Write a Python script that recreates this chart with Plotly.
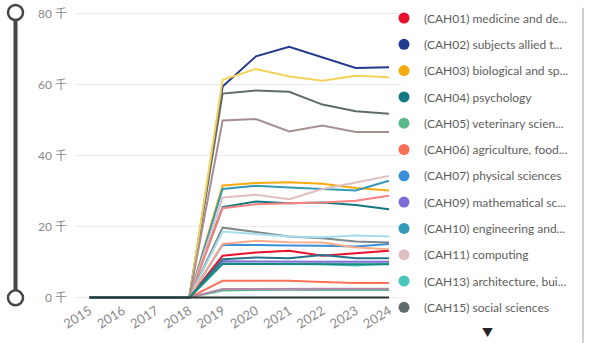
import plotly.graph_objects as go

# ---------------- data ----------------
years = [2015, 2016, 2017, 2018, 2019, 2020, 2021, 2022, 2023, 2024]
year_labels = ["2015", "2016", "2017", "2018", "2019", "2020", "2021", "2022", "2023", "2024"]

y_tick_values = [0, 20000, 40000, 60000, 80000]
y_tick_labels = ["0 千", "20 千", "40 千", "60 千", "80 千"]

cah01 = [0, 0, 0, 0, 11800, 12700, 13200, 11800, 12500, 13200]
cah02 = [0, 0, 0, 0, 59500, 68000, 70700, 67800, 64700, 64900]
cah03 = [0, 0, 0, 0, 31600, 32300, 32500, 32100, 30900, 30200]
cah04 = [0, 0, 0, 0, 25500, 27100, 26600, 26800, 26100, 24900]
cah05 = [0, 0, 0, 0, 2000, 2200, 2200, 2100, 2100, 2100]
cah06 = [0, 0, 0, 0, 4700, 4700, 4700, 4400, 4100, 4100]
cah07 = [0, 0, 0, 0, 14900, 14900, 14700, 14600, 14400, 15100]
cah09 = [0, 0, 0, 0, 10200, 10100, 10000, 10100, 10100, 10100]
cah10 = [0, 0, 0, 0, 30600, 31500, 31000, 30700, 30200, 32900]
cah11 = [0, 0, 0, 0, 28200, 29000, 27700, 30600, 32400, 34300]
cah13 = [0, 0, 0, 0, 9500, 9600, 9500, 9400, 9000, 9500]
cah15 = [0, 0, 0, 0, 57500, 58400, 58000, 54400, 52500, 51800]
cah16 = [0, 0, 0, 0, 25200, 26300, 26600, 26800, 27300, 28700]
cah17 = [0, 0, 0, 0, 61400, 64400, 62300, 61100, 62500, 62100]
cah19 = [0, 0, 0, 0, 19700, 18400, 17200, 16700, 15800, 15500]
cah20 = [0, 0, 0, 0, 18600, 18000, 17200, 17000, 17500, 17200]
cah22 = [0, 0, 0, 0, 15100, 16000, 15600, 15500, 14100, 13600]
cah23 = [0, 0, 0, 0, 2400, 2500, 2500, 2500, 2500, 2500]
cah24 = [0, 0, 0, 0, 10800, 11300, 11100, 12000, 11100, 11100]
cah25 = [0, 0, 0, 0, 49900, 50300, 46800, 48500, 46700, 46700]
cah26 = [0, 0, 0, 0, 9500, 9500, 9400, 9500, 9500, 9400]
blank = [0, 0, 0, 0, 0, 0, 0, 0, 0, 0]

series_names = [
    "(CAH01) medicine and dentistry",
    "(CAH02) subjects allied to medicine",
    "(CAH03) biological and sport sciences",
    "(CAH04) psychology",
    "(CAH05) veterinary sciences",
    "(CAH06) agriculture, food and related studies",
    "(CAH07) physical sciences",
    "(CAH09) mathematical sciences",
    "(CAH10) engineering and technology",
    "(CAH11) computing",
    "(CAH13) architecture, building and planning",
    "(CAH15) social sciences",
    "(CAH16) law",
    "(CAH17) business and management",
    "(CAH19) language and area studies",
    "(CAH20) historical, philosophical and religious studies",
    "(CAH22) education and teaching",
    "(CAH23) combined and general studies",
    "(CAH24) media, journalism and communications",
    "(CAH25) design, and creative and performing arts",
    "(CAH26) geography, earth and environmental studies",
    "(Blank)",
]
series_values = [cah01, cah02, cah03, cah04, cah05, cah06, cah07, cah09, cah10, cah11,
                 cah13, cah15, cah16, cah17, cah19, cah20, cah22, cah23, cah24, cah25,
                 cah26, blank]
series_colors = ["#E8112D", "#223A8F", "#F8AA0E", "#127A80", "#5BB88C", "#FA7158",
                 "#3A8FDB", "#7E6BD6", "#3599B8", "#DFBFBF", "#4AC5BB", "#5F6B6D",
                 "#FB8281", "#F4D25A", "#7F898A", "#A4DDEE", "#FDAB89", "#B687AC",
                 "#28738A", "#A78F8F", "#168980", "#293537"]

# legend entries visible in the (paged) legend, as truncated on screen
legend_labels = [
    "(CAH01) medicine and de...",
    "(CAH02) subjects allied t...",
    "(CAH03) biological and sp...",
    "(CAH04) psychology",
    "(CAH05) veterinary scien...",
    "(CAH06) agriculture, food...",
    "(CAH07) physical sciences",
    "(CAH09) mathematical sc...",
    "(CAH10) engineering and...",
    "(CAH11) computing",
    "(CAH13) architecture, bui...",
    "(CAH15) social sciences",
]

# ---------------- layout geometry (pixels) ----------------
W, H = 596, 343
PL, PR = 76, 401            # plot left / right
Y0PX, Y80PX = 297.7, 14.0   # pixel of 0 and 80k
ppu = (Y0PX - Y80PX) / 80000.0
Y_LO, Y_HI = -700, 80500
PT = Y80PX - (Y_HI - 80000) * ppu
PB = Y0PX + (0 - Y_LO) * ppu
X_STEP = (389.0 - 89.5) / 9
X_LO = 2015 - (89.5 - PL) / X_STEP
X_HI = 2024 + (PR - 389.0) / X_STEP


def px_x(p):
    return (p - PL) / (PR - PL)


def px_y(p):
    return 1 - (p - PT) / (PB - PT)


FONT = "Segoe UI, Lato, 'Noto Sans CJK SC', sans-serif"

fig = go.Figure()

for name, vals, col in zip(series_names, series_values, series_colors):
    fig.add_trace(go.Scatter(
        x=years, y=vals, mode="lines", name=name,
        line=dict(color=col, width=2), showlegend=False, hoverinfo="skip"))

for i, lab in enumerate(legend_labels):
    fig.add_trace(go.Scatter(
        x=[None], y=[None], mode="markers", name=lab,
        marker=dict(size=11, color=series_colors[i], symbol="circle"),
        legendgroup=f"g{i}", showlegend=True, hoverinfo="skip"))

shapes = [
    # vertical zoom slider on the left
    dict(type="line", xref="paper", yref="paper",
         x0=px_x(15.5), x1=px_x(15.5), y0=px_y(13), y1=px_y(298),
         line=dict(color="#9E9E9E", width=5)),
    dict(type="line", xref="paper", yref="paper",
         x0=px_x(15.5), x1=px_x(15.5), y0=px_y(13), y1=px_y(298),
         line=dict(color="#464646", width=3)),
    dict(type="circle", xref="paper", yref="paper",
         x0=px_x(15.5 - 7.5), x1=px_x(15.5 + 7.5), y0=px_y(12.7 + 7.5), y1=px_y(12.7 - 7.5),
         fillcolor="white", line=dict(color="#464646", width=2.5)),
    dict(type="circle", xref="paper", yref="paper",
         x0=px_x(15.5 - 7.5), x1=px_x(15.5 + 7.5), y0=px_y(298 + 7.5), y1=px_y(298 - 7.5),
         fillcolor="white", line=dict(color="#464646", width=2.5)),
    # legend pane separator
    dict(type="line", xref="paper", yref="paper",
         x0=px_x(583), x1=px_x(583), y0=px_y(8), y1=px_y(343),
         line=dict(color="#D0D0D0", width=2)),
]

fig.update_layout(
    width=W, height=H,
    margin=dict(l=PL, r=W - PR, t=PT, b=H - PB, pad=0, autoexpand=False),
    paper_bgcolor="white", plot_bgcolor="white",
    font=dict(family=FONT, size=12, color="#8A8A8A"),
    xaxis=dict(range=[X_LO, X_HI], tickmode="array", tickvals=years, ticktext=year_labels,
               tickangle=-32, showgrid=False, zeroline=False, showline=False,
               tickfont=dict(size=13, color="#8A8A8A"), fixedrange=True, automargin=False),
    yaxis=dict(range=[Y_LO, Y_HI], tickmode="array", tickvals=y_tick_values,
               ticktext=y_tick_labels, showgrid=True, gridcolor="#EBEBEB", gridwidth=1,
               zeroline=False, showline=False, ticklabelstandoff=8,
               tickfont=dict(size=12, color="#8A8A8A"), fixedrange=True, automargin=False),
    legend=dict(xref="container", yref="container", x=384 / W, y=1 - 3.5 / H,
                xanchor="left", yanchor="top", traceorder="grouped", maxheight=338,
                tracegroupgap=7.3, font=dict(family=FONT, size=12, color="#605E5C"),
                bgcolor="rgba(0,0,0,0)", borderwidth=0),
    shapes=shapes,
    annotations=[dict(text="▼", xref="paper", yref="paper", x=px_x(487), y=px_y(333),
                      xanchor="center", yanchor="middle",
                      showarrow=False, font=dict(size=11, color="#252423"))],
    hovermode=False,
)

fig.write_html("out.html", config={"displayModeBar": False})
